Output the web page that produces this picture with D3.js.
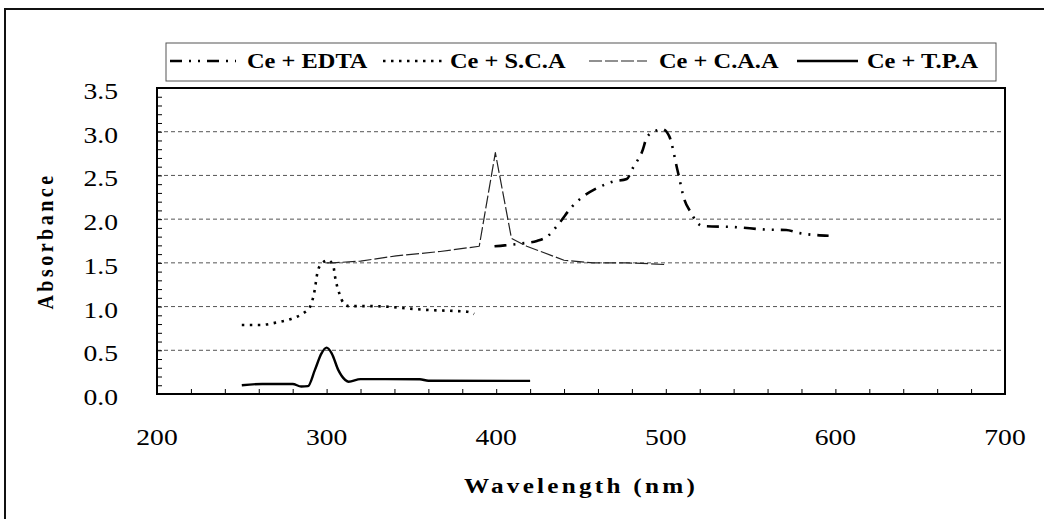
<!DOCTYPE html>
<html>
<head>
<meta charset="utf-8">
<script src="https://cdn.jsdelivr.net/npm/d3@7"></script>
<style>
  html, body { margin: 0; padding: 0; background: #fff; }
  svg { display: block; }
</style>
</head>
<body>
<svg id="chart" width="1044" height="519"></svg>
<script>
// Absorption spectra of Ce complexes: wavelength (nm) vs absorbance

const seriesNames = ["Ce + EDTA", "Ce + S.C.A", "Ce + C.A.A", "Ce + T.P.A"];

const wavelengthTicks = [200, 300, 400, 500, 600, 700];
const absorbanceTicks = [0.0, 0.5, 1.0, 1.5, 2.0, 2.5, 3.0, 3.5];
const gridValues = [0.5, 1.0, 1.5, 2.0, 2.5, 3.0];

// [wavelength, absorbance]
const edta = [
  [399, 1.69], [405, 1.70], [414, 1.72], [424, 1.75], [430, 1.80], [437, 1.95],
  [445, 2.15], [450, 2.24], [459, 2.35], [469, 2.43], [477, 2.46], [481, 2.60],
  [486, 2.77], [489, 2.94], [494, 3.01], [498, 3.03], [502, 2.95], [507, 2.55],
  [511, 2.22], [515, 2.07], [518, 1.97], [522, 1.92], [540, 1.91], [560, 1.88],
  [571, 1.875], [579, 1.84], [596, 1.81]
];

const sca = [
  [250, 0.79], [261, 0.79], [271, 0.82], [280, 0.865], [286, 0.92], [290, 0.99],
  [293, 1.19], [294.5, 1.38], [296.5, 1.48], [301, 1.53], [304, 1.46], [305, 1.34],
  [307.5, 1.15], [310, 1.04], [313, 1.005], [324, 1.005], [335, 1.0], [347, 0.98],
  [361, 0.96], [375, 0.95], [383, 0.94], [387, 0.915]
];

const caa = [
  [300, 1.50], [304, 1.50], [320, 1.52], [341, 1.58], [367, 1.63], [390, 1.69],
  [399.5, 2.76], [409, 1.78], [418, 1.69], [440, 1.53], [457, 1.50], [477, 1.50],
  [490, 1.49], [500, 1.48]
];

const tpa = [
  [250, 0.10], [262, 0.115], [280, 0.115], [285, 0.085], [289, 0.09], [293, 0.27],
  [297, 0.465], [300, 0.53], [303, 0.465], [307, 0.27], [311, 0.16], [313, 0.14],
  [320, 0.17], [355, 0.168], [360, 0.152], [420, 0.15]
];

const FONT = "'Liberation Serif', 'Times New Roman', 'DejaVu Serif', serif";

const svg = d3.select("#chart").attr("font-family", FONT);
const W = 1044, H = 519;
const plot = { left: 157, right: 1005, top: 88, bottom: 394 };

const x = d3.scaleLinear().domain([200, 700]).range([plot.left, plot.right]);
const y = d3.scaleLinear().domain([0, 3.5]).range([plot.bottom, plot.top]);

svg.append("rect").attr("width", W).attr("height", H).attr("fill", "#fff");

// outer chart border (left and top edges)
svg.append("path")
  .attr("d", `M5,${H} V9 H${W}`)
  .attr("fill", "none").attr("stroke", "#111").attr("stroke-width", 2);

// horizontal dashed gridlines
svg.append("g").selectAll("line").data(gridValues).join("line")
  .attr("x1", plot.left).attr("x2", plot.right)
  .attr("y1", d => y(d)).attr("y2", d => y(d))
  .attr("stroke", "#555").attr("stroke-width", 1)
  .attr("stroke-dasharray", "4,3");

// inward tick marks
const xTickG = svg.append("g").attr("transform", `translate(0,${plot.bottom})`)
  .call(d3.axisBottom(x).tickValues(d3.range(200, 701, 20)).tickSize(-5).tickFormat(""));
const yTickG = svg.append("g").attr("transform", `translate(${plot.left},0)`)
  .call(d3.axisLeft(y).tickValues(d3.range(0, 35.1, 1).map(v => v / 10)).tickSize(-5).tickFormat(""));
[xTickG, yTickG].forEach(g => {
  g.select(".domain").remove();
  g.selectAll("line").attr("stroke", "#000").attr("stroke-width", 1);
});

// plot frame
svg.append("rect")
  .attr("x", plot.left).attr("y", plot.top)
  .attr("width", plot.right - plot.left).attr("height", plot.bottom - plot.top)
  .attr("fill", "none").attr("stroke", "#000").attr("stroke-width", 2);

// tick labels (slightly wide serif lettering)
const sxTick = 1.15;
svg.append("g").selectAll("text").data(wavelengthTicks).join("text")
  .attr("transform", d => `translate(${x(d)},445) scale(${sxTick},1)`)
  .attr("text-anchor", "middle").attr("font-size", 24)
  .attr("font-family", FONT).attr("fill", "#000")
  .text(d => d);

svg.append("g").selectAll("text").data(absorbanceTicks).join("text")
  .attr("transform", d => `translate(118,${y(d) + 11}) scale(${sxTick},1)`)
  .attr("text-anchor", "end").attr("font-size", 24)
  .attr("font-family", FONT).attr("fill", "#000")
  .text(d => d.toFixed(1));

// axis titles
svg.append("text")
  .attr("transform", "translate(581,493) scale(1.2,1)")
  .attr("text-anchor", "middle").attr("font-size", 21).attr("font-weight", "bold")
  .attr("font-family", FONT).attr("letter-spacing", 2.7)
  .text("Wavelength (nm)");

svg.append("text")
  .attr("transform", "translate(53,241) scale(1.2,1) rotate(-90)")
  .attr("text-anchor", "middle").attr("font-size", 20).attr("font-weight", "bold")
  .attr("font-family", FONT).attr("letter-spacing", 3.5)
  .text("Absorbance");

// series styles
const styles = {
  "Ce + EDTA":  { data: edta, width: 2.6, dash: "12,7,2,7,2,7", color: "#000", curve: d3.curveMonotoneX },
  "Ce + S.C.A": { data: sca,  width: 2.6, dash: "2.5,5.5",      color: "#000", curve: d3.curveMonotoneX },
  "Ce + C.A.A": { data: caa,  width: 1.2, dash: "13,3",         color: "#222", curve: d3.curveLinear },
  "Ce + T.P.A": { data: tpa,  width: 2.4, dash: null,           color: "#000", curve: d3.curveMonotoneX }
};

const linesG = svg.append("g");
seriesNames.forEach(name => {
  const s = styles[name];
  const line = d3.line().x(d => x(d[0])).y(d => y(d[1])).curve(s.curve);
  linesG.append("path")
    .attr("d", line(s.data))
    .attr("fill", "none")
    .attr("stroke", s.color)
    .attr("stroke-width", s.width)
    .attr("stroke-linejoin", "round")
    .attr("stroke-dasharray", s.dash);
});

// legend
svg.append("rect")
  .attr("x", 166).attr("y", 43).attr("width", 830).attr("height", 38)
  .attr("fill", "#fff").attr("stroke", "#555").attr("stroke-width", 1);

const legendItems = [
  { name: "Ce + EDTA",  sym: [170, 236], text: 247 },
  { name: "Ce + S.C.A", sym: [383, 443], text: 450 },
  { name: "Ce + C.A.A", sym: [589, 647], text: 659 },
  { name: "Ce + T.P.A", sym: [797, 858], text: 867 }
];
const legendG = svg.append("g");
legendItems.forEach(item => {
  const s = styles[item.name];
  legendG.append("line")
    .attr("x1", item.sym[0]).attr("x2", item.sym[1])
    .attr("y1", 61).attr("y2", 61)
    .attr("stroke", s.color).attr("stroke-width", s.width)
    .attr("stroke-dasharray", s.dash);
  legendG.append("text")
    .attr("transform", `translate(${item.text},68) scale(1.22,1)`)
    .attr("font-size", 20).attr("font-weight", "bold")
    .attr("font-family", FONT).attr("fill", "#000")
    .text(item.name);
});
</script>
</body>
</html>
